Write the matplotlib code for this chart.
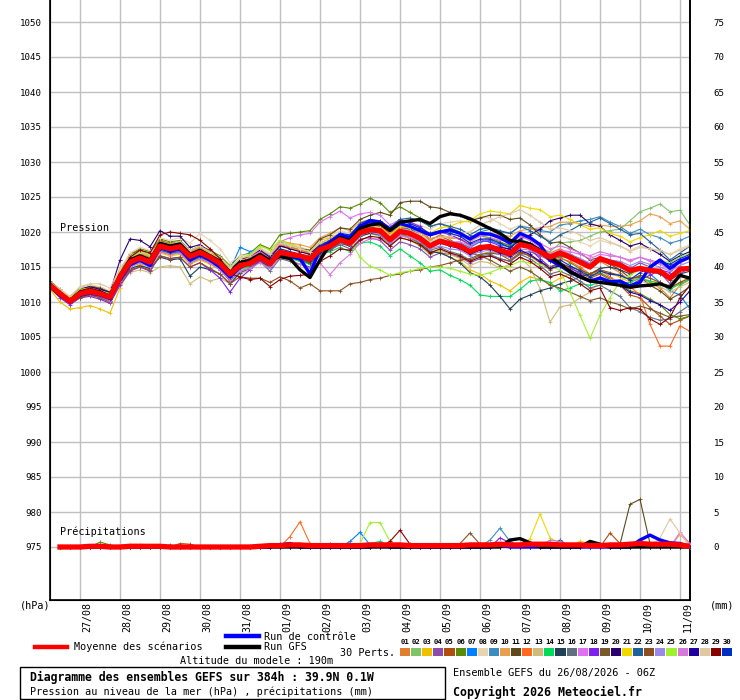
"""
GEFS ensemble diagram (pressure + precipitation) for 39.9N 0.1W, run 26/08/2026 06Z.
Writes out.png
"""

import matplotlib
matplotlib.use("Agg")
import matplotlib.pyplot as plt
from matplotlib.lines import Line2D
from matplotlib.patches import Rectangle
import matplotlib.transforms as mtransforms

W, H = 740, 700
FONT = "DejaVu Sans Mono"

# 6-hourly steps, 0 = 26/08 06Z ... 64 = 11/09 06Z
DAY_LABELS = ["27/08", "28/08", "29/08", "30/08", "31/08", "01/09", "02/09", "03/09",
              "04/09", "05/09", "06/09", "07/09", "08/09", "09/09", "10/09", "11/09"]
DAY_STEPS = [3, 7, 11, 15, 19, 23, 27, 31, 35, 39, 43, 47, 51, 55, 59, 63]

PRESS_TICKS = [975, 980, 985, 990, 995, 1000, 1005, 1010, 1015, 1020, 1025, 1030,
               1035, 1040, 1045, 1050]
RAIN_TICKS = [0, 5, 10, 15, 20, 25, 30, 35, 40, 45, 50, 55, 60, 65, 70, 75]

MEMBER_COLORS = ["#E07F30", "#80C468", "#F0C000", "#8C4CA8", "#B04E0E", "#5A8A0A",
                 "#0080FF", "#E8D4B0", "#3C8CC0", "#E8A050", "#604818", "#FF6A20",
                 "#D0BC78", "#00DC5A", "#204058", "#607080", "#E070F0", "#8020F0",
                 "#7A5A28", "#2A0070", "#F0D800", "#20609C", "#8C5020", "#9C88E8",
                 "#A0F030", "#D878D8", "#2000A0", "#E0C8A0", "#880000", "#0030C0"]

# ensemble mean, control run, GFS run (hPa)
mean_p = [1012.4, 1011.2, 1010.1, 1011.2, 1011.5, 1011.2, 1010.7, 1013.6, 1015.7, 1016.3, 1015.7, 1018.0, 1017.6,
          1017.9, 1016.5, 1017.1, 1016.4, 1015.5, 1014.0, 1015.2, 1015.5, 1016.4, 1015.5, 1017.1, 1016.8, 1016.6,
          1016.1, 1017.5, 1018.0, 1018.9, 1018.4, 1019.9, 1020.3, 1020.2, 1018.9, 1020.1, 1019.8, 1019.1, 1018.0,
          1018.7, 1018.3, 1018.0, 1017.2, 1017.8, 1017.9, 1017.4, 1016.9, 1018.2, 1017.9, 1017.2, 1016.4, 1017.0,
          1016.4, 1015.7, 1015.0, 1016.2, 1015.7, 1015.3, 1014.5, 1014.8, 1014.5, 1014.4, 1013.4, 1014.7, 1014.8]
control_p = [1012.6, 1011.0, 1010.0, 1011.0, 1011.3, 1011.0, 1010.5, 1013.2, 1015.3, 1016.0, 1015.2, 1017.8, 1017.3,
             1017.6, 1016.0, 1016.8, 1016.0, 1015.0, 1013.6, 1015.0, 1015.6, 1016.6, 1015.4, 1017.0, 1016.5, 1016.2,
             1014.0, 1017.6, 1018.5, 1019.6, 1019.2, 1020.8, 1021.6, 1021.4, 1020.3, 1021.2, 1020.8, 1020.2, 1019.6,
             1020.0, 1020.3, 1019.8, 1019.0, 1019.8, 1019.7, 1019.2, 1018.4, 1019.8, 1019.2, 1018.2, 1016.0, 1015.2,
             1014.3, 1013.6, 1013.0, 1013.4, 1012.9, 1013.0, 1012.3, 1012.8, 1015.0, 1016.0, 1014.8, 1015.8, 1016.4]
gfs_p = [1012.2, 1011.0, 1010.2, 1011.4, 1011.6, 1011.4, 1010.8, 1013.8, 1016.0, 1016.6, 1016.0, 1018.4, 1018.0,
         1018.3, 1016.8, 1017.4, 1016.6, 1015.8, 1014.2, 1015.6, 1016.0, 1016.8, 1015.9, 1016.5, 1016.2, 1014.6,
         1013.5, 1016.0, 1018.2, 1019.2, 1018.8, 1020.5, 1021.0, 1021.2, 1020.2, 1021.4, 1021.6, 1021.8, 1021.2,
         1022.2, 1022.6, 1022.4, 1021.9, 1021.2, 1020.5, 1019.8, 1018.8, 1018.6, 1018.3, 1017.4, 1016.4, 1015.5,
         1014.3, 1013.6, 1013.0, 1012.8, 1012.6, 1012.4, 1012.1, 1012.3, 1012.4, 1012.6, 1012.1, 1013.8, 1013.4]

# perturbed members 01..30 (hPa)
p01 = [1012.8, 1011.6, 1010.4, 1011.8, 1012.0, 1011.6, 1011.0, 1014.2, 1016.6, 1017.2, 1016.8, 1018.8, 1018.4,
       1018.6, 1017.2, 1017.8, 1017.0, 1016.0, 1014.4, 1015.8, 1016.2, 1017.0, 1016.2, 1018.0, 1017.6, 1017.2,
       1016.8, 1018.4, 1019.0, 1019.8, 1019.4, 1020.6, 1021.0, 1020.8, 1019.4, 1020.8, 1020.4, 1020.0, 1018.8,
       1019.6, 1019.2, 1019.0, 1018.0, 1018.8, 1019.0, 1018.4, 1018.2, 1019.4, 1019.0, 1018.0, 1017.0, 1017.6,
       1016.8, 1016.0, 1015.0, 1015.8, 1015.0, 1014.2, 1013.0, 1013.6, 1012.8, 1012.0, 1010.6, 1012.4, 1013.2]
p02 = [1012.6, 1011.4, 1010.2, 1011.4, 1011.8, 1011.4, 1010.8, 1013.4, 1015.2, 1015.8, 1015.0, 1017.4, 1017.0,
       1017.2, 1015.8, 1016.4, 1015.8, 1014.8, 1013.2, 1014.6, 1015.0, 1016.0, 1015.2, 1016.8, 1016.4, 1016.0,
       1015.6, 1017.0, 1017.6, 1018.4, 1018.0, 1019.4, 1019.8, 1019.4, 1018.2, 1019.2, 1018.8, 1018.0, 1016.8,
       1017.4, 1017.0, 1016.6, 1015.8, 1016.8, 1017.2, 1016.8, 1016.6, 1018.0, 1018.2, 1017.6, 1017.2, 1018.4,
       1018.6, 1018.8, 1019.4, 1020.0, 1020.2, 1020.4, 1021.6, 1022.9, 1023.4, 1024.0, 1022.9, 1023.1, 1021.0]
p03 = [1011.8, 1010.0, 1009.0, 1009.2, 1009.5, 1009.0, 1008.4, 1012.0, 1014.6, 1015.4, 1014.6, 1017.0, 1016.6,
       1016.8, 1015.4, 1016.0, 1015.4, 1014.6, 1013.2, 1014.8, 1016.0, 1018.2, 1017.4, 1018.8, 1018.4, 1017.8,
       1017.4, 1018.8, 1019.2, 1019.8, 1019.2, 1020.4, 1020.6, 1020.2, 1018.8, 1019.6, 1019.0, 1018.2, 1017.0,
       1017.2, 1016.4, 1015.8, 1014.6, 1014.0, 1013.0, 1012.4, 1011.6, 1012.8, 1013.6, 1013.2, 1012.6, 1013.4,
       1014.0, 1014.4, 1013.8, 1014.6, 1014.0, 1013.6, 1012.8, 1013.4, 1013.0, 1012.8, 1012.0, 1012.8, 1013.6]
p04 = [1012.2, 1011.0, 1009.8, 1010.8, 1011.0, 1010.8, 1010.2, 1013.0, 1015.0, 1015.6, 1015.0, 1017.2, 1016.8,
       1017.0, 1015.6, 1016.2, 1015.6, 1014.6, 1013.0, 1014.4, 1014.8, 1015.8, 1014.8, 1016.4, 1016.2, 1016.0,
       1015.4, 1016.8, 1017.4, 1018.2, 1017.6, 1019.0, 1019.2, 1018.8, 1017.4, 1018.6, 1018.2, 1017.6, 1016.4,
       1017.0, 1016.8, 1016.4, 1015.6, 1016.2, 1016.6, 1016.2, 1015.8, 1017.0, 1017.2, 1016.6, 1016.0, 1016.6,
       1016.2, 1015.8, 1015.2, 1016.0, 1015.8, 1015.4, 1014.8, 1015.6, 1015.0, 1014.2, 1012.6, 1014.0, 1015.0]
p05 = [1012.6, 1011.4, 1010.4, 1011.6, 1012.0, 1011.8, 1011.2, 1014.4, 1016.8, 1017.4, 1016.8, 1018.8, 1018.2,
       1018.4, 1017.0, 1017.4, 1016.6, 1015.8, 1014.4, 1015.6, 1015.8, 1016.6, 1015.6, 1017.4, 1017.0, 1016.8,
       1016.6, 1018.0, 1018.6, 1019.6, 1019.2, 1020.6, 1021.2, 1021.0, 1019.8, 1021.0, 1020.8, 1020.2, 1019.0,
       1019.4, 1018.8, 1018.2, 1017.2, 1017.6, 1017.6, 1016.8, 1016.0, 1017.0, 1016.6, 1015.6, 1014.6, 1015.2,
       1014.8, 1014.2, 1013.4, 1014.0, 1013.2, 1012.4, 1011.0, 1010.6, 1009.2, 1008.0, 1006.8, 1007.4, 1008.0]
p06 = [1013.0, 1011.8, 1010.6, 1012.0, 1012.4, 1012.0, 1011.4, 1014.6, 1016.8, 1017.6, 1017.2, 1019.0, 1018.6,
       1018.8, 1017.4, 1018.0, 1017.4, 1016.6, 1015.2, 1016.6, 1017.0, 1018.2, 1017.6, 1019.6, 1019.8, 1020.0,
       1020.2, 1021.8, 1022.6, 1023.6, 1023.4, 1024.0, 1024.8, 1024.2, 1022.8, 1023.6, 1022.8, 1022.0, 1020.8,
       1021.2, 1020.6, 1020.0, 1019.0, 1019.4, 1019.2, 1018.6, 1018.0, 1019.0, 1018.4, 1017.2, 1016.0, 1016.4,
       1015.6, 1014.8, 1013.6, 1014.2, 1013.4, 1012.6, 1011.6, 1011.2, 1010.4, 1009.6, 1008.2, 1007.6, 1008.0]
p07 = [1012.8, 1011.6, 1010.6, 1011.8, 1012.2, 1011.8, 1011.2, 1014.0, 1016.2, 1016.8, 1016.2, 1018.4, 1018.0,
       1018.2, 1016.8, 1017.4, 1016.8, 1016.0, 1014.6, 1017.8, 1017.2, 1017.6, 1016.6, 1018.4, 1018.0, 1017.6,
       1017.0, 1018.4, 1018.8, 1019.8, 1019.2, 1020.6, 1021.0, 1020.6, 1019.4, 1020.6, 1020.4, 1019.6, 1018.4,
       1019.0, 1018.6, 1018.4, 1017.8, 1018.6, 1018.8, 1018.2, 1017.8, 1018.8, 1018.4, 1017.6, 1016.6, 1017.2,
       1016.8, 1016.2, 1015.4, 1016.4, 1016.0, 1015.6, 1014.6, 1015.0, 1014.0, 1012.8, 1011.6, 1011.0, 1009.0]
p08 = [1012.6, 1011.6, 1010.8, 1012.0, 1012.4, 1012.2, 1011.6, 1014.6, 1017.0, 1017.8, 1017.4, 1019.2, 1018.8,
       1019.2, 1018.4, 1019.8, 1018.8, 1017.6, 1015.6, 1016.6, 1016.8, 1017.8, 1017.0, 1018.6, 1018.2, 1017.8,
       1017.4, 1018.8, 1019.4, 1020.2, 1019.8, 1021.0, 1021.6, 1021.4, 1020.4, 1021.6, 1021.4, 1021.0, 1020.4,
       1021.2, 1021.4, 1021.6, 1021.4, 1022.2, 1022.0, 1021.2, 1020.4, 1021.0, 1020.6, 1019.6, 1018.8, 1019.4,
       1019.0, 1018.6, 1018.0, 1018.8, 1018.4, 1018.0, 1017.4, 1018.0, 1017.6, 1017.2, 1016.8, 1017.6, 1018.2]
p09 = [1012.4, 1011.2, 1010.0, 1011.2, 1011.4, 1011.0, 1010.6, 1013.4, 1015.6, 1016.2, 1015.6, 1017.8, 1017.4,
       1017.6, 1016.2, 1016.8, 1016.2, 1015.2, 1013.8, 1015.2, 1015.6, 1016.4, 1015.6, 1017.2, 1016.8, 1016.4,
       1016.0, 1017.4, 1018.0, 1019.0, 1018.6, 1020.2, 1020.8, 1020.6, 1019.6, 1021.0, 1020.8, 1020.4, 1019.6,
       1020.2, 1020.0, 1019.8, 1019.2, 1020.0, 1020.4, 1020.0, 1019.8, 1020.8, 1020.6, 1020.2, 1020.0, 1021.0,
       1021.2, 1021.6, 1021.8, 1022.2, 1021.4, 1020.8, 1019.8, 1020.4, 1019.6, 1019.2, 1018.4, 1018.8, 1019.4]
p10 = [1012.4, 1011.0, 1010.0, 1011.4, 1011.8, 1011.4, 1010.8, 1013.8, 1016.0, 1016.8, 1016.4, 1018.4, 1018.0,
       1018.2, 1016.8, 1017.6, 1017.0, 1016.2, 1014.8, 1016.0, 1016.4, 1017.4, 1016.8, 1018.6, 1018.4, 1018.2,
       1017.8, 1019.2, 1019.8, 1020.6, 1020.2, 1021.4, 1021.8, 1021.4, 1020.0, 1021.0, 1020.6, 1020.0, 1019.0,
       1019.4, 1019.2, 1019.0, 1018.6, 1019.4, 1019.8, 1019.6, 1019.4, 1020.2, 1020.4, 1020.6, 1020.8, 1021.4,
       1021.4, 1021.2, 1020.8, 1021.0, 1020.8, 1020.8, 1021.0, 1021.6, 1022.6, 1022.2, 1021.2, 1021.6, 1020.4]
p11 = [1012.2, 1011.0, 1010.0, 1011.2, 1011.6, 1011.2, 1010.6, 1013.6, 1015.8, 1016.6, 1016.0, 1018.2, 1017.8,
       1018.0, 1016.6, 1017.2, 1016.6, 1015.6, 1014.2, 1015.6, 1016.0, 1017.0, 1016.2, 1018.0, 1017.8, 1017.6,
       1017.4, 1019.0, 1019.6, 1020.6, 1020.4, 1021.8, 1022.4, 1022.8, 1022.4, 1024.2, 1024.4, 1024.4, 1023.6,
       1023.4, 1022.8, 1022.4, 1021.6, 1022.0, 1022.4, 1022.4, 1021.8, 1022.0, 1021.0, 1019.6, 1018.4, 1018.6,
       1017.8, 1017.0, 1016.0, 1016.4, 1015.4, 1014.6, 1013.4, 1013.6, 1012.4, 1011.6, 1010.4, 1011.2, 1012.2]
p12 = [1012.6, 1011.4, 1010.4, 1011.6, 1011.8, 1011.6, 1011.0, 1014.0, 1016.2, 1016.8, 1016.4, 1018.4, 1018.0,
       1018.4, 1017.0, 1017.6, 1017.0, 1016.2, 1014.6, 1015.8, 1016.2, 1017.2, 1016.4, 1018.2, 1017.8, 1017.4,
       1017.0, 1018.4, 1019.0, 1019.8, 1019.4, 1020.8, 1021.0, 1020.8, 1019.6, 1020.6, 1020.2, 1019.6, 1018.4,
       1018.8, 1018.4, 1018.0, 1017.4, 1018.0, 1018.2, 1017.6, 1017.2, 1018.4, 1017.8, 1016.8, 1015.8, 1016.2,
       1015.8, 1015.0, 1014.0, 1014.6, 1013.6, 1012.6, 1012.2, 1011.0, 1006.8, 1003.7, 1003.7, 1006.6, 1005.8]
p13 = [1012.0, 1010.8, 1009.8, 1010.8, 1011.0, 1010.6, 1010.0, 1012.6, 1014.2, 1014.6, 1014.2, 1015.0, 1015.2,
       1015.0, 1012.6, 1013.6, 1013.0, 1013.4, 1012.6, 1014.0, 1014.6, 1015.8, 1015.0, 1016.6, 1016.4, 1016.2,
       1015.8, 1017.4, 1018.0, 1018.8, 1018.4, 1019.6, 1020.2, 1020.0, 1018.6, 1019.8, 1019.4, 1018.6, 1017.2,
       1017.4, 1016.8, 1016.2, 1015.2, 1015.8, 1015.6, 1014.8, 1015.4, 1016.4, 1015.0, 1011.9, 1007.1, 1009.3,
       1009.6, 1010.6, 1011.4, 1013.0, 1013.2, 1013.0, 1012.4, 1013.0, 1012.6, 1012.2, 1011.4, 1012.2, 1012.8]
p14 = [1012.4, 1011.2, 1010.2, 1011.2, 1011.6, 1011.2, 1010.6, 1013.4, 1015.4, 1016.0, 1015.4, 1017.4, 1017.0,
       1017.2, 1015.8, 1016.4, 1015.8, 1014.8, 1013.4, 1014.8, 1015.0, 1016.0, 1015.0, 1016.6, 1016.2, 1015.8,
       1015.4, 1016.8, 1017.2, 1017.8, 1017.2, 1018.4, 1018.6, 1018.0, 1016.6, 1017.6, 1016.6, 1015.6, 1014.4,
       1014.6, 1013.8, 1013.2, 1012.4, 1011.0, 1010.8, 1010.8, 1010.8, 1011.8, 1013.0, 1013.2, 1012.8, 1011.6,
       1012.0, 1012.6, 1012.4, 1012.8, 1013.0, 1012.6, 1012.8, 1013.4, 1013.0, 1012.6, 1011.8, 1012.6, 1013.2]
p15 = [1012.2, 1010.8, 1009.8, 1010.8, 1011.0, 1010.8, 1010.2, 1012.8, 1014.8, 1015.2, 1014.8, 1016.4, 1016.0,
       1016.2, 1013.7, 1015.0, 1014.6, 1014.0, 1012.6, 1014.2, 1014.8, 1015.8, 1015.0, 1016.8, 1016.4, 1016.0,
       1015.6, 1017.0, 1017.6, 1018.4, 1018.0, 1019.4, 1019.8, 1019.6, 1018.4, 1019.6, 1019.2, 1018.4, 1017.2,
       1017.0, 1016.4, 1015.6, 1014.2, 1013.6, 1012.4, 1010.8, 1009.0, 1010.4, 1011.0, 1011.6, 1012.0, 1012.6,
       1013.0, 1013.6, 1014.0, 1014.8, 1015.0, 1014.6, 1014.0, 1014.8, 1014.4, 1014.0, 1013.2, 1014.0, 1014.4]
p16 = [1012.6, 1011.2, 1010.2, 1011.4, 1011.6, 1011.2, 1010.8, 1013.6, 1015.8, 1016.4, 1015.8, 1018.0, 1017.6,
       1017.8, 1016.4, 1017.0, 1016.4, 1015.4, 1014.0, 1015.2, 1015.2, 1015.8, 1014.4, 1016.2, 1015.8, 1015.4,
       1015.0, 1016.6, 1017.4, 1018.4, 1018.2, 1019.6, 1020.0, 1019.8, 1018.6, 1019.8, 1019.2, 1018.4, 1017.4,
       1017.8, 1017.2, 1016.8, 1016.0, 1016.6, 1016.8, 1016.2, 1015.8, 1016.8, 1016.2, 1015.2, 1014.0, 1014.4,
       1013.8, 1013.0, 1012.0, 1012.4, 1011.6, 1010.8, 1009.2, 1008.6, 1007.8, 1007.4, 1007.6, 1008.6, 1009.6]
p17 = [1012.8, 1011.4, 1010.4, 1011.6, 1011.8, 1011.4, 1010.8, 1013.8, 1016.0, 1016.6, 1016.2, 1018.4, 1018.0,
       1018.2, 1016.8, 1017.4, 1016.8, 1016.0, 1014.4, 1015.6, 1016.2, 1017.2, 1016.4, 1018.6, 1019.2, 1019.6,
       1019.8, 1021.4, 1022.2, 1023.0, 1022.0, 1022.6, 1022.8, 1022.4, 1021.0, 1021.8, 1021.2, 1020.6, 1019.6,
       1020.0, 1019.8, 1019.4, 1018.8, 1019.4, 1019.6, 1019.0, 1018.6, 1019.4, 1018.8, 1017.8, 1016.8, 1017.4,
       1017.2, 1016.8, 1016.2, 1016.8, 1016.6, 1016.4, 1016.0, 1016.4, 1015.8, 1015.4, 1014.6, 1015.6, 1016.4]
p18 = [1012.0, 1010.6, 1009.6, 1010.6, 1010.8, 1010.4, 1009.8, 1012.4, 1014.4, 1015.0, 1014.4, 1016.6, 1016.2,
       1016.4, 1015.0, 1015.6, 1014.6, 1013.4, 1011.4, 1013.4, 1014.6, 1016.0, 1015.2, 1017.0, 1016.8, 1016.6,
       1016.2, 1017.8, 1018.6, 1019.6, 1019.4, 1020.8, 1021.4, 1021.6, 1020.6, 1021.8, 1021.4, 1020.8, 1019.6,
       1020.0, 1019.6, 1019.0, 1018.2, 1018.8, 1018.6, 1018.0, 1017.4, 1018.4, 1017.6, 1016.2, 1015.0, 1015.6,
       1015.0, 1014.0, 1013.0, 1013.6, 1013.0, 1012.8, 1012.4, 1013.2, 1013.8, 1014.6, 1014.2, 1015.8, 1016.6]
p19 = [1012.4, 1011.4, 1010.6, 1011.8, 1012.2, 1012.0, 1011.4, 1014.2, 1016.4, 1017.0, 1016.6, 1018.6, 1018.2,
       1018.4, 1017.0, 1017.6, 1016.8, 1015.8, 1014.2, 1015.4, 1015.6, 1016.4, 1015.4, 1017.0, 1016.6, 1016.0,
       1015.6, 1017.0, 1017.6, 1018.6, 1018.2, 1019.6, 1020.2, 1020.0, 1018.8, 1020.0, 1019.8, 1019.2, 1018.2,
       1018.6, 1018.2, 1018.0, 1017.0, 1016.6, 1016.0, 1015.2, 1014.4, 1015.0, 1014.4, 1013.4, 1012.4, 1012.0,
       1011.4, 1010.8, 1010.2, 1010.6, 1010.0, 1009.6, 1009.0, 1009.4, 1009.0, 1008.4, 1007.8, 1008.0, 1008.2]
p20 = [1012.6, 1011.4, 1010.4, 1011.8, 1012.2, 1011.8, 1011.4, 1016.0, 1019.0, 1018.8, 1017.9, 1020.2, 1019.4,
       1019.4, 1017.8, 1018.2, 1017.2, 1016.2, 1014.6, 1016.0, 1016.6, 1017.4, 1016.4, 1018.0, 1017.6, 1017.2,
       1016.8, 1018.2, 1018.8, 1019.6, 1019.0, 1020.4, 1020.8, 1020.4, 1019.0, 1020.0, 1019.6, 1019.0, 1018.0,
       1018.4, 1018.0, 1017.6, 1016.8, 1017.4, 1018.0, 1017.8, 1017.6, 1019.0, 1019.6, 1020.4, 1021.6, 1022.0,
       1022.4, 1022.4, 1021.2, 1020.8, 1019.6, 1018.8, 1018.0, 1018.4, 1017.6, 1016.8, 1015.8, 1016.6, 1017.2]
p21 = [1012.4, 1011.2, 1010.2, 1011.4, 1011.8, 1011.4, 1010.8, 1013.8, 1016.0, 1016.6, 1016.0, 1018.2, 1017.8,
       1018.0, 1016.6, 1017.2, 1016.6, 1015.6, 1014.2, 1015.6, 1016.0, 1016.8, 1016.0, 1017.6, 1017.2, 1016.8,
       1016.4, 1017.8, 1018.4, 1019.4, 1019.0, 1020.4, 1020.8, 1020.6, 1019.6, 1020.8, 1020.6, 1020.4, 1019.8,
       1020.6, 1020.8, 1021.4, 1021.6, 1022.6, 1023.0, 1022.8, 1022.6, 1023.8, 1023.4, 1023.2, 1022.2, 1022.4,
       1021.8, 1021.0, 1020.4, 1020.6, 1019.8, 1019.4, 1018.6, 1019.2, 1019.6, 1020.2, 1019.4, 1019.8, 1020.2]
p22 = [1012.2, 1011.0, 1010.0, 1011.0, 1011.4, 1011.0, 1010.4, 1013.2, 1015.2, 1015.8, 1015.2, 1017.4, 1017.0,
       1017.2, 1015.8, 1016.4, 1015.8, 1014.8, 1013.4, 1014.8, 1015.4, 1016.4, 1015.6, 1017.2, 1016.8, 1016.4,
       1016.0, 1017.4, 1018.2, 1019.2, 1018.8, 1020.4, 1021.2, 1021.4, 1020.6, 1021.8, 1022.0, 1021.6, 1020.8,
       1021.2, 1020.8, 1020.4, 1019.6, 1020.4, 1020.6, 1020.2, 1019.8, 1020.8, 1020.2, 1019.4, 1018.6, 1019.6,
       1020.2, 1021.0, 1021.4, 1022.0, 1021.2, 1020.4, 1019.6, 1019.8, 1018.6, 1017.4, 1016.0, 1017.0, 1018.0]
p23 = [1012.0, 1010.8, 1009.8, 1010.6, 1011.0, 1010.6, 1010.0, 1012.8, 1014.6, 1015.0, 1014.6, 1016.6, 1016.2,
       1016.4, 1015.0, 1015.6, 1014.8, 1014.0, 1012.6, 1013.6, 1013.4, 1013.4, 1012.8, 1013.6, 1013.0, 1012.0,
       1012.6, 1011.6, 1011.6, 1011.6, 1012.6, 1012.8, 1013.2, 1013.4, 1013.8, 1014.0, 1014.4, 1014.6, 1015.0,
       1015.2, 1015.6, 1016.0, 1016.2, 1016.8, 1017.0, 1016.8, 1016.4, 1017.2, 1016.6, 1015.8, 1015.0, 1015.4,
       1015.0, 1014.6, 1014.0, 1014.6, 1014.2, 1013.8, 1013.2, 1013.8, 1013.4, 1012.8, 1012.0, 1012.8, 1013.4]
p24 = [1012.6, 1011.2, 1010.2, 1011.2, 1011.6, 1011.2, 1010.6, 1013.4, 1015.4, 1016.0, 1015.4, 1017.6, 1017.2,
       1017.4, 1016.0, 1016.6, 1016.0, 1015.2, 1013.8, 1015.0, 1015.4, 1016.2, 1015.2, 1016.8, 1016.4, 1016.2,
       1015.8, 1017.2, 1017.8, 1018.6, 1018.2, 1019.6, 1020.0, 1019.6, 1018.4, 1019.6, 1019.2, 1018.6, 1017.6,
       1018.0, 1017.6, 1017.4, 1016.6, 1017.2, 1017.4, 1016.8, 1016.4, 1017.6, 1017.4, 1016.8, 1016.2, 1017.0,
       1016.8, 1016.2, 1015.6, 1016.4, 1016.0, 1015.8, 1015.2, 1015.8, 1015.4, 1015.0, 1014.4, 1015.2, 1015.8]
p25 = [1012.8, 1011.6, 1010.6, 1011.8, 1012.0, 1011.6, 1011.2, 1014.2, 1016.4, 1017.0, 1016.6, 1018.6, 1018.2,
       1018.4, 1017.0, 1017.6, 1017.0, 1016.2, 1014.8, 1016.2, 1016.8, 1018.0, 1017.4, 1018.8, 1018.2, 1017.6,
       1017.2, 1018.4, 1018.8, 1019.4, 1018.8, 1016.4, 1015.1, 1014.6, 1013.8, 1014.2, 1014.4, 1014.8, 1015.0,
       1015.0, 1014.8, 1014.4, 1014.0, 1013.8, 1014.2, 1014.8, 1015.2, 1015.8, 1015.6, 1015.4, 1015.0, 1014.6,
       1011.4, 1008.1, 1004.8, 1008.1, 1010.6, 1013.0, 1013.8, 1014.6, 1015.2, 1016.0, 1015.6, 1016.4, 1017.0]
p26 = [1012.4, 1011.0, 1010.0, 1011.0, 1011.2, 1010.8, 1010.2, 1013.0, 1015.0, 1015.6, 1015.0, 1017.2, 1016.8,
       1017.0, 1015.6, 1016.2, 1015.6, 1014.6, 1013.2, 1014.4, 1014.8, 1015.6, 1014.8, 1016.4, 1016.0, 1015.4,
       1014.8, 1015.6, 1013.9, 1015.6, 1016.8, 1018.4, 1019.0, 1019.0, 1018.0, 1019.4, 1019.2, 1018.8, 1018.2,
       1018.8, 1018.6, 1018.6, 1018.0, 1018.8, 1019.2, 1018.8, 1018.6, 1019.4, 1019.0, 1018.4, 1017.6, 1018.0,
       1017.6, 1017.0, 1016.6, 1017.2, 1016.8, 1016.4, 1015.8, 1016.4, 1016.0, 1015.6, 1015.2, 1016.0, 1016.6]
p27 = [1012.2, 1011.0, 1010.0, 1011.0, 1011.4, 1011.0, 1010.4, 1013.4, 1015.4, 1016.0, 1015.4, 1017.6, 1017.2,
       1017.4, 1016.0, 1016.6, 1016.0, 1015.0, 1013.6, 1015.0, 1015.4, 1016.2, 1015.4, 1017.0, 1016.6, 1016.2,
       1015.8, 1017.2, 1017.8, 1018.8, 1018.4, 1019.8, 1020.4, 1020.2, 1019.0, 1020.2, 1019.8, 1019.2, 1018.2,
       1018.6, 1018.2, 1017.8, 1017.0, 1017.6, 1017.6, 1017.0, 1016.6, 1017.4, 1016.8, 1015.8, 1014.8, 1015.2,
       1014.6, 1013.8, 1013.0, 1013.4, 1012.8, 1012.4, 1011.4, 1011.0, 1010.2, 1009.6, 1008.8, 1010.0, 1011.6]
p28 = [1012.8, 1011.8, 1010.8, 1012.2, 1012.6, 1012.6, 1012.0, 1014.8, 1016.6, 1017.2, 1016.8, 1018.6, 1018.2,
       1018.6, 1017.4, 1018.0, 1017.2, 1016.4, 1015.0, 1016.2, 1016.6, 1017.6, 1016.8, 1018.4, 1018.0, 1017.6,
       1017.2, 1018.4, 1019.0, 1019.8, 1019.4, 1020.6, 1021.0, 1020.6, 1019.4, 1020.4, 1020.2, 1019.6, 1018.6,
       1019.2, 1019.4, 1019.8, 1020.0, 1021.0, 1021.6, 1022.2, 1022.6, 1023.2, 1022.4, 1021.4, 1020.4, 1020.6,
       1020.2, 1019.6, 1018.8, 1019.2, 1018.6, 1018.0, 1017.2, 1017.8, 1017.6, 1017.4, 1016.8, 1017.4, 1018.0]
p29 = [1012.6, 1011.4, 1010.4, 1011.6, 1012.0, 1011.6, 1011.0, 1014.0, 1016.4, 1017.4, 1017.0, 1019.6, 1020.0,
       1019.8, 1019.6, 1018.8, 1017.6, 1016.2, 1014.0, 1013.6, 1013.2, 1013.4, 1012.2, 1013.2, 1013.7, 1013.8,
       1014.0, 1015.8, 1016.6, 1017.6, 1017.4, 1018.8, 1019.4, 1019.2, 1018.0, 1019.2, 1018.8, 1018.2, 1017.0,
       1017.6, 1017.0, 1016.6, 1015.8, 1016.4, 1016.6, 1016.0, 1015.4, 1016.4, 1015.8, 1014.8, 1013.6, 1014.0,
       1013.4, 1012.6, 1011.6, 1012.0, 1009.2, 1008.8, 1009.2, 1009.0, 1007.6, 1006.8, 1007.8, 1010.6, 1012.4]
p30 = [1012.4, 1011.2, 1010.2, 1011.2, 1011.6, 1011.2, 1010.6, 1013.6, 1015.8, 1016.4, 1015.8, 1018.0, 1017.6,
       1017.8, 1016.4, 1017.0, 1016.4, 1015.4, 1014.0, 1015.4, 1015.8, 1016.8, 1016.0, 1017.6, 1017.2, 1016.8,
       1016.4, 1018.0, 1018.8, 1019.8, 1019.6, 1021.2, 1021.8, 1021.6, 1020.6, 1021.6, 1021.2, 1020.6, 1019.8,
       1020.2, 1019.8, 1019.4, 1018.4, 1019.0, 1019.0, 1018.4, 1017.8, 1018.8, 1018.2, 1017.0, 1015.8, 1016.0,
       1015.2, 1014.4, 1013.6, 1014.4, 1014.0, 1013.8, 1013.2, 1014.2, 1014.8, 1015.8, 1015.4, 1016.2, 1016.8]

# precipitation (mm per 6h), steps 1..64; ensemble mean as full series
mean_rr = [0.0, 0.0, 0.0, 0.1, 0.1, 0.0, 0.0, 0.1, 0.1, 0.1, 0.1, 0.0, 0.0, 0.0, 0.0, 0.0, 0.0, 0.0, 0.0, 0.0,
           0.1, 0.2, 0.2, 0.3, 0.3, 0.2, 0.2, 0.2, 0.2, 0.2, 0.2, 0.3, 0.3, 0.3, 0.3, 0.2, 0.2, 0.2, 0.2, 0.2,
           0.2, 0.3, 0.3, 0.3, 0.4, 0.3, 0.3, 0.4, 0.4, 0.4, 0.3, 0.3, 0.3, 0.2, 0.2, 0.3, 0.3, 0.4, 0.5, 0.4,
           0.4, 0.4, 0.3, 0.1]
# runs and members: only the steps where rain shows, zero elsewhere
control_rr = {23: 0.3, 24: 0.5, 33: 0.4, 45: 0.3, 59: 1.0, 60: 1.7, 61: 1.0, 62: 0.6, 63: 0.5}
gfs_rr = {46: 1.0, 47: 1.2, 48: 0.6, 54: 0.8, 55: 0.4}
member_rr = {
    2: {30: 0.6},
    3: {53: 0.8, 54: 0.5},
    5: {13: 0.5, 14: 0.4, 56: 2.0, 57: 0.5},
    6: {5: 0.7, 6: 0.3},
    7: {30: 0.8, 31: 2.1, 32: 0.3},
    8: {7: 0.3, 8: 0.4, 9: 0.4, 10: 0.3},
    9: {44: 1.0, 45: 2.7, 46: 0.8},
    10: {63: 1.8, 64: 0.3},
    11: {56: 0.3, 57: 0.4, 58: 6.1, 59: 6.8, 60: 0.5},
    12: {24: 1.5, 25: 3.6, 26: 0.5},
    14: {32: 0.5, 33: 0.8},
    15: {51: 1.0},
    16: {12: 0.3},
    17: {63: 2.1, 64: 0.5},
    18: {45: 1.3, 46: 0.6},
    19: {53: 0.5},
    20: {23: 0.5, 24: 0.4},
    21: {48: 1.2, 49: 4.7, 50: 1.3, 51: 0.5},
    22: {47: 0.4},
    23: {41: 0.5, 42: 2.0, 43: 0.4},
    24: {50: 1.0, 51: 0.8},
    25: {31: 0.5, 32: 3.5, 33: 3.5, 34: 0.8},
    26: {58: 0.6, 59: 0.8},
    27: {27: 0.3, 28: 0.4},
    28: {61: 1.3, 62: 4.0, 63: 2.0},
    29: {34: 0.8, 35: 2.4, 36: 0.4},
}

MEMBERS = [p01, p02, p03, p04, p05, p06, p07, p08, p09, p10, p11, p12, p13, p14, p15,
           p16, p17, p18, p19, p20, p21, p22, p23, p24, p25, p26, p27, p28, p29, p30]


def px(x, y):
    """pixel position (from top-left) -> figure fraction"""
    return x / W, 1 - y / H


def rain_series(events):
    vals = [0.0] * 64
    for step, mm in events.items():
        vals[step - 1] = mm
    return vals


def ftext(fig, x, y, s, size=7.3, weight="normal", **kw):
    fx, fy = px(x, y)
    fig.text(fx, fy, s, fontsize=size, fontweight=weight, family=FONT,
             va="center", ha=kw.pop("ha", "left"), **kw)


def main():
    fig = plt.figure(figsize=(W / 100, H / 100), dpi=100)
    fig.patch.set_facecolor("white")

    ax = fig.add_axes([50 / W, 100 / H, 640 / W, 600 / H])
    ax.set_xlim(0, 64)
    ax.set_ylim(975 - 53 / 7, 975 + 547 / 7)
    ax.set_xticks(DAY_STEPS)
    ax.set_xticklabels([])
    ax.set_yticks(PRESS_TICKS)
    ax.set_yticklabels([str(v) for v in PRESS_TICKS], family=FONT, fontsize=6.6)
    ax.tick_params(axis="both", length=0)
    ax.tick_params(axis="y", pad=6)
    ax.grid(True, color="#C0C0C0", linewidth=1.0)
    ax.set_axisbelow(True)
    for side in ("left", "right", "bottom"):
        ax.spines[side].set_color("black")
        ax.spines[side].set_linewidth(1.2)
    ax.spines["top"].set_visible(False)

    ax2 = ax.twinx()
    ax2.set_ylim(-53 / 7, 547 / 7)
    ax2.set_yticks(RAIN_TICKS)
    ax2.set_yticklabels([str(v) for v in RAIN_TICKS], family=FONT, fontsize=6.6)
    ax2.tick_params(axis="y", length=0, pad=17)
    ax2.spines["top"].set_visible(False)
    ax2.spines["right"].set_linewidth(1.2)

    steps = list(range(65))
    rr_steps = list(range(1, 65))

    # perturbations
    for i, (series, col) in enumerate(zip(MEMBERS, MEMBER_COLORS)):
        ax.plot(steps, series, color=col, lw=0.8, marker="+", ms=3, mew=0.6, zorder=3)
        rr = rain_series(member_rr.get(i + 1, {}))
        ax2.plot(rr_steps, rr, color=col, lw=0.8, marker="+", ms=3, mew=0.6, zorder=3)

    # control, GFS, mean
    ax.plot(steps, control_p, color="#0000FF", lw=2.4, zorder=5)
    ax.plot(steps, gfs_p, color="black", lw=2.4, zorder=5)
    ax.plot(steps, mean_p, color="#FF0000", lw=3.8, zorder=6)
    ax2.plot(rr_steps, rain_series(control_rr), color="#0000FF", lw=2.4, zorder=5)
    ax2.plot(rr_steps, rain_series(gfs_rr), color="black", lw=2.4, zorder=5)
    ax2.plot(rr_steps, mean_rr, color="#FF0000", lw=3.8, zorder=6)

    # date labels, a bit right of each gridline, under the axis
    trans = mtransforms.blended_transform_factory(ax.transData, fig.transFigure)
    for s, lab in zip(DAY_STEPS, DAY_LABELS):
        ax.text(s + 0.75, 1 - 602 / H, lab, transform=trans, rotation=90,
                ha="center", va="top", family=FONT, fontsize=7.2, clip_on=False)

    ftext(fig, 60, 228, "Pression")
    ftext(fig, 60, 532, "Précipitations")
    ftext(fig, 20, 606, "(hPa)")
    ftext(fig, 710, 606, "(mm)")

    # legend
    for (x0, x1, y, col) in [(35, 67, 647, "#FF0000"), (226, 259, 636, "#0000FF"),
                             (226, 259, 647, "black")]:
        fig.add_artist(Line2D([x0 / W, x1 / W], [1 - y / H, 1 - y / H], color=col, lw=3.2))
    ftext(fig, 74, 647, "Moyenne des scénarios")
    ftext(fig, 264, 637, "Run de contrôle")
    ftext(fig, 264, 647, "Run GFS")
    ftext(fig, 180, 661, "Altitude du modele : 190m")
    ftext(fig, 340, 653, "30 Perts.")

    cell = 11.1
    for i, col in enumerate(MEMBER_COLORS):
        x0 = 400 + i * cell
        fig.add_artist(Rectangle((x0 / W, 1 - 656 / H), (cell - 1) / W, 8 / H,
                                 transform=fig.transFigure, facecolor=col, edgecolor="none"))
        ftext(fig, x0 + (cell - 1) / 2, 642, f"{i + 1:02d}", size=5.2, weight="bold", ha="center")

    # title box
    fig.add_artist(Rectangle((20 / W, 1 - 699 / H), 425 / W, 32 / H, transform=fig.transFigure,
                             facecolor="none", edgecolor="black", lw=1.0))
    ftext(fig, 30, 677, "Diagramme des ensembles GEFS sur 384h : 39.9N 0.1W", size=8.3, weight="bold")
    ftext(fig, 30, 692, "Pression au niveau de la mer (hPa) , précipitations (mm)")
    ftext(fig, 453, 673, "Ensemble GEFS du 26/08/2026 - 06Z", size=7.4)
    ftext(fig, 453, 692, "Copyright 2026 Meteociel.fr", size=8.4, weight="bold")

    fig.savefig("out.png", dpi=100)
    plt.close(fig)


if __name__ == "__main__":
    main()
